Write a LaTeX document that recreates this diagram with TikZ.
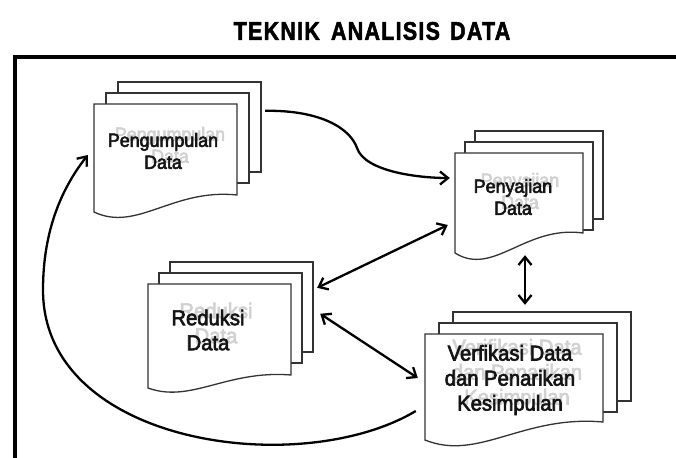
\documentclass[tikz,border=0pt]{standalone}
\usepackage{fontspec}
\setmainfont{Liberation Sans}
\newfontfamily\labelfont{Liberation Sans}[FakeStretch=0.94, FakeBold=3]
\newfontfamily\headfont{Liberation Sans Bold}[FakeStretch=0.84, LetterSpace=5, FakeBold=2]
\usetikzlibrary{arrows.meta,calc}

% A stack of three sheets: two plain sheets behind, a front sheet with a wavy lower edge.
% #1 name, #2 x and #3 y of the front sheet's top left corner, #4 width,
% #5 height at the left side, #6 rise of the wavy edge, #7 height of the rear sheets,
% #8 horizontal step between sheets
\newcommand{\docstack}[8]{%
  \draw[sheet] ({#2+2*#8},{#3-22}) rectangle ++(#4,#7);
  \draw[sheet] ({#2+#8},{#3-11}) rectangle ++(#4,#7);
  \draw[sheet] (#2,#3) -- (#2,{#3+#5})
    .. controls ({#2+0.3*#4},{#3+#5+1.2*#6}) and ({#2+0.55*#4},{#3+#5-1.4*#6})
    .. ({#2+#4},{#3+#5-#6}) -- ({#2+#4},#3) -- cycle;
  \node[area, minimum width=#4pt, minimum height=#5pt] (#1) at ({#2+#4/2},{#3+#5/2}) {};
}

\begin{document}
\begin{tikzpicture}[x=1pt, y=-1pt,
  sheet/.style={draw=black!80, line width=1.3pt, fill=white},
  area/.style={inner sep=0pt, draw=none},
  link/.style={line width=2.3pt, black},
  tip/.style={arrows={-{Straight Barb[length=8pt,width=13pt]}}},
  bothtips/.style={arrows={{Straight Barb[length=8pt,width=13pt]}-{Straight Barb[length=8pt,width=13pt]}}},
  label/.style={align=center, text=black!92, inner sep=0pt},
  ghost/.style={align=center, text=black!18, inner sep=0pt},
  small/.style={font=\labelfont\fontsize{19}{22}\selectfont},
  large/.style={font=\labelfont\fontsize{21.5}{25}\selectfont}]

\useasboundingbox (0,0) rectangle (676,457);
\clip (0,0) rectangle (676,457);
\fill[white] (0,0) rectangle (676,457);

% heading
\node[font=\headfont\fontsize{25.5}{30}\selectfont] (judul) at (372,31) {TEKNIK\hspace{4pt} ANALISIS\hspace{3pt} DATA};

% outer frame, running off the right and lower edges
\draw[line width=4pt, line join=miter] (14.5,480) -- (14.5,57) -- (700,57);

% the four stacks
\docstack{kumpul}{94}{104}{143}{108}{17}{90}{12}
\docstack{saji}{455}{153}{128}{100}{20}{88}{10}
\docstack{reduksi}{148}{284}{143}{104}{13}{90}{11}
\docstack{verif}{425}{334}{178}{106}{18}{89}{14}

% faint echoes of the labels
\node[ghost, small] (kumpulG) at (170,145) {Pengumpulan\\Data};
\node[ghost, small] (sajiG) at (520,191) {Penyajian\\Data};
\node[ghost, large] (reduksiG) at (216,323) {Reduksi\\Data};
\node[ghost, large] (verifG) at (517,374) {Verifikasi Data\\dan Penarikan\\Kesimpulan};

% labels
\node[label, small] (kumpulT) at (163,151) {Pengumpulan\\Data};
\node[label, small] (sajiT) at (513,197) {Penyajian\\Data};
\node[label, large] (reduksiT) at (208,330) {Reduksi\\Data};
\node[label, large] (verifT) at (510,380) {Verfikasi Data\\dan Penarikan\\Kesimpulan};

% connectors
\draw[link, tip] ($(kumpul.north east)+(28,7)$)
  .. controls (320,110) and (350,128) .. (357,148)
  .. controls (365,172) and (420,178) .. ($(saji.west)+(-5,-25)$);
\draw[link, bothtips] ($(saji.west)+(-7,22)$) -- ($(reduksi.north east)+(26,4)$);
\draw[link, bothtips] ($(reduksi.north east)+(29,30)$) -- ($(verif.west)+(-7,-9)$);
\draw[link, bothtips] ($(saji.south)+(6,2)$) -- ($(verif.north)+(11,-29)$);
\draw[link, tip] ($(verif.west)+(-9,24)$)
  .. controls (300,480) and (43,445) .. (43,290)
  .. controls (43,230) and (62,188) .. ($(kumpul.west)+(-6,-3)$);
\end{tikzpicture}
\end{document}
